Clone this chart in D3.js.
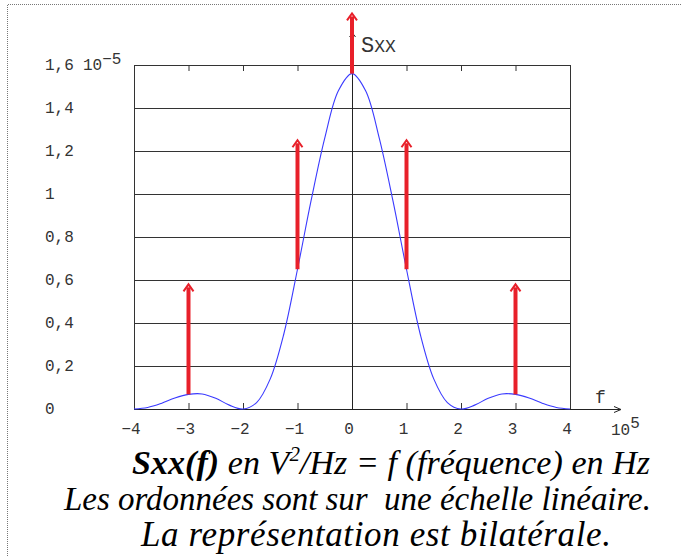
<!DOCTYPE html>
<html lang="fr">
<head>
    <meta charset="UTF-8">
    <title>Sxx(f)</title>
    <script src="https://cdn.jsdelivr.net/npm/d3@7/dist/d3.min.js"></script>
    <style>
        body { margin: 0; background: #fff; }
        .tick-label { font-family: "Liberation Mono", "Courier New", monospace; font-size: 16px; fill: #333; }
        .grid line { stroke: #333; stroke-width: 1; shape-rendering: crispEdges; }
        .caption { font-family: "Liberation Serif", "Times New Roman", serif; font-style: italic; font-size: 33px; fill: #000; white-space: pre; }
    </style>
</head>
<body>
<script>
    // fréquences en 10^5 Hz, densité en 10^-5 V²/Hz
    var freqs = [-4, -3.75, -3.5, -3.25, -3, -2.75, -2.5, -2.25, -2, -1.75, -1.5, -1.25, -1, -0.75, -0.5, -0.25,
        0, 0.25, 0.5, 0.75, 1, 1.25, 1.5, 1.75, 2, 2.25, 2.5, 2.75, 3, 3.25, 3.5, 3.75, 4];
    var sxx = [0, 0.007, 0.026, 0.051, 0.068, 0.07, 0.05, 0.018, 0, 0.03, 0.14, 0.35, 0.65, 0.97, 1.26, 1.48,
        1.56, 1.48, 1.26, 0.97, 0.65, 0.35, 0.14, 0.03, 0, 0.018, 0.05, 0.07, 0.068, 0.051, 0.026, 0.007, 0];
    // raies (flèches rouges)
    var lineFreqs = [-3, -1, 0, 1, 3];
    var lineTops = [0.58, 1.25, 1.84, 1.25, 0.58];

    var xTicks = [-4, -3, -2, -1, 0, 1, 2, 3, 4];
    var xTickLabels = ["\u22124", "\u22123", "\u22122", "\u22121", "0", "1", "2", "3", "4"];
    var yTicks = [0, 0.2, 0.4, 0.6, 0.8, 1, 1.2, 1.4, 1.6];
    var yTickLabels = ["0", "0,2", "0,4", "0,6", "0,8", "1", "1,2", "1,4", "1,6"];
    var captionLines = ["Les ordonnées sont sur  une échelle linéaire.", "La représentation est bilatérale."];

    var width = 682, height = 556;
    var svg = d3.select("body").append("svg")
        .attr("width", width)
        .attr("height", height);

    // cadre pointillé
    svg.append("path")
        .attr("d", "M7.5,556 V4.5 H682")
        .attr("fill", "none")
        .attr("stroke", "#777")
        .attr("stroke-dasharray", "1,1");

    var xScale = d3.scaleLinear().domain([-4, 4]).range([134, 570]);
    var yScale = d3.scaleLinear().domain([0, 1.6]).range([409, 65]);

    // grille horizontale
    svg.append("g").attr("class", "grid")
        .selectAll("line")
        .data(yTicks.slice(1))
        .enter().append("line")
        .attr("x1", xScale(-4)).attr("x2", xScale(4))
        .attr("y1", function (d) { return Math.round(yScale(d)) + 0.5; })
        .attr("y2", function (d) { return Math.round(yScale(d)) + 0.5; });

    // bords gauche / droit
    svg.append("g").attr("class", "grid")
        .selectAll("line")
        .data([-4, 4])
        .enter().append("line")
        .attr("x1", function (d) { return Math.round(xScale(d)) + 0.5; })
        .attr("x2", function (d) { return Math.round(xScale(d)) + 0.5; })
        .attr("y1", yScale(1.6)).attr("y2", yScale(0));

    // graduations haut et bas (vers l'intérieur)
    var xAxisBottom = d3.axisBottom(xScale).tickValues(xTicks.slice(1, -1)).tickSize(-6).tickFormat("");
    var xAxisTop = d3.axisTop(xScale).tickValues(xTicks.slice(1, -1)).tickSize(-6).tickFormat("");
    svg.append("g").attr("transform", "translate(0," + yScale(0) + ")").call(xAxisBottom)
        .call(function (g) { g.select(".domain").remove(); })
        .selectAll("line").attr("stroke", "#333");
    svg.append("g").attr("transform", "translate(0," + yScale(1.6) + ")").call(xAxisTop)
        .call(function (g) { g.select(".domain").remove(); })
        .selectAll("line").attr("stroke", "#333");

    // axe des ordonnées (x = 0) avec flèche
    var x0 = Math.round(xScale(0)) + 0.5;
    svg.append("line")
        .attr("x1", x0).attr("x2", x0)
        .attr("y1", yScale(0)).attr("y2", 33)
        .attr("stroke", "#222");
    svg.append("path")
        .attr("d", "M" + (x0 - 3) + ",37 L" + x0 + ",33 L" + (x0 + 3) + ",37")
        .attr("fill", "none").attr("stroke", "#222");

    // axe des abscisses avec flèche
    var y0 = Math.round(yScale(0)) + 0.5;
    svg.append("line")
        .attr("x1", xScale(-4)).attr("x2", 620)
        .attr("y1", y0).attr("y2", y0)
        .attr("stroke", "#222");
    svg.append("path")
        .attr("d", "M614," + (y0 - 3) + " L621," + y0 + " L614," + (y0 + 3))
        .attr("fill", "none").attr("stroke", "#222");

    // étiquettes des ordonnées
    svg.selectAll(".ylab")
        .data(yTicks)
        .enter().append("text")
        .attr("class", "tick-label")
        .attr("x", 45)
        .attr("y", function (d) { return yScale(d) + 5; })
        .text(function (d, i) { return yTickLabels[i]; });
    var exp = svg.append("text").attr("class", "tick-label").attr("x", 83).attr("y", yScale(1.6) + 5);
    exp.append("tspan").text("10");
    exp.append("tspan").attr("dy", -6).text("\u22125");

    // étiquettes des abscisses
    svg.selectAll(".xlab")
        .data(xTicks)
        .enter().append("text")
        .attr("class", "tick-label")
        .attr("text-anchor", "middle")
        .attr("x", function (d) { return xScale(d) - 3; })
        .attr("y", 434)
        .text(function (d, i) { return xTickLabels[i]; });
    var exp5 = svg.append("text").attr("class", "tick-label").attr("x", 611).attr("y", 435);
    exp5.append("tspan").text("10");
    exp5.append("tspan").attr("dy", -7).text("5");

    svg.append("text").attr("class", "tick-label")
        .attr("x", 595).attr("y", 403).style("font-size", "18px").text("f");

    // densité spectrale (courbe bleue)
    var line = d3.line()
        .x(function (d, i) { return xScale(freqs[i]); })
        .y(function (d) { return yScale(d); })
        .curve(d3.curveCatmullRom);
    svg.append("path")
        .datum(sxx)
        .attr("d", line)
        .attr("fill", "none")
        .attr("stroke", "#3a3aff")
        .attr("stroke-width", 1.1);

    // raies rouges
    var red = "#e8202a";
    var raies = svg.append("g");
    lineFreqs.forEach(function (f, i) {
        var base = sxx[freqs.indexOf(f)];
        var x = xScale(f), yt = yScale(lineTops[i]);
        raies.append("line")
            .attr("x1", x).attr("x2", x)
            .attr("y1", yScale(base)).attr("y2", yt + 3)
            .attr("stroke", red).attr("stroke-width", 4);
        raies.append("path")
            .attr("d", "M" + (x - 5) + "," + (yt + 7) + " L" + x + "," + yt + " L" + (x + 5) + "," + (yt + 7))
            .attr("fill", "none").attr("stroke", red).attr("stroke-width", 2);
    });

    // label Sxx
    var sl = svg.append("text").attr("class", "tick-label").attr("x", 361).attr("y", 52).style("font-size", "22px");
    sl.append("tspan").text("S");
    sl.append("tspan").style("font-size", "18px").text("XX");

    // légende
    var cap = svg.append("text").attr("class", "caption").attr("x", 132).attr("y", 474)
        .style("font-size", "34px")
        .attr("textLength", 518).attr("lengthAdjust", "spacing");
    cap.append("tspan").style("font-weight", "bold").text("Sxx(f)");
    cap.append("tspan").text(" en V");
    cap.append("tspan").attr("dy", -13).style("font-size", "21px").text("2");
    cap.append("tspan").attr("dy", 13).text("/Hz = f (fréquence) en Hz");
    svg.append("text").attr("class", "caption").attr("x", 64).attr("y", 510)
        .attr("textLength", 587).attr("lengthAdjust", "spacing").text(captionLines[0]);
    svg.append("text").attr("class", "caption").attr("x", 141).attr("y", 546)
        .style("font-size", "35px")
        .attr("textLength", 470).attr("lengthAdjust", "spacing").text(captionLines[1]);
</script>
</body>
</html>
